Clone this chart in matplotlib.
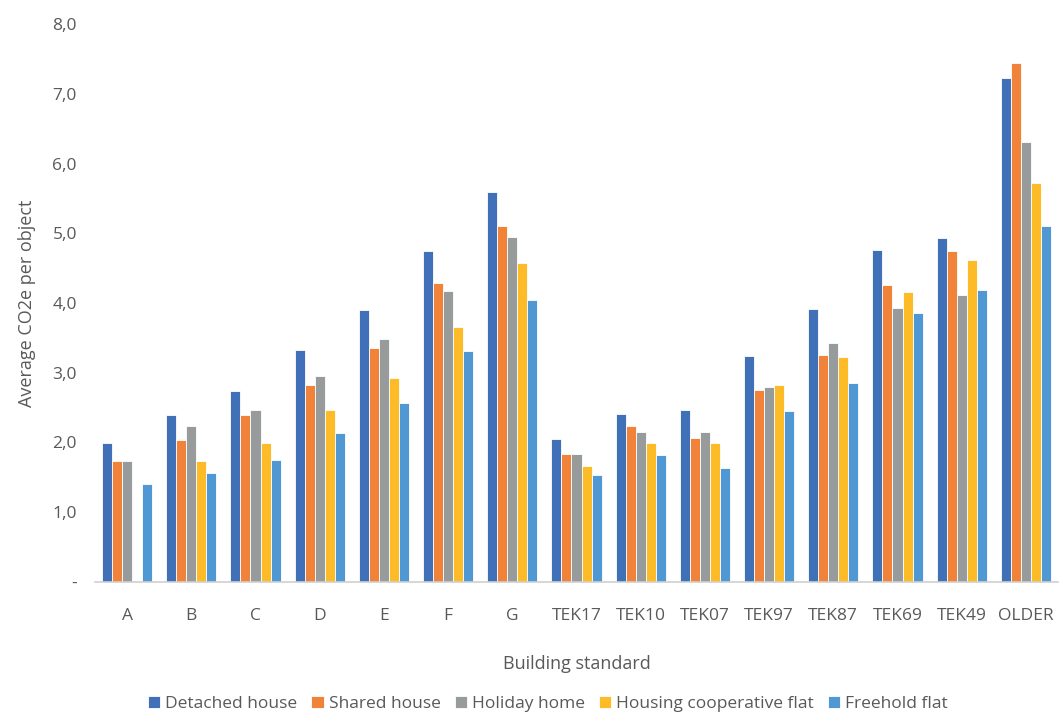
import matplotlib
matplotlib.use("Agg")
import matplotlib.pyplot as plt
import numpy as np

categories = ["A", "B", "C", "D", "E", "F", "G", "TEK17", "TEK10", "TEK07",
              "TEK97", "TEK87", "TEK69", "TEK49", "OLDER"]
series_names = ["Detached house", "Shared house", "Holiday home",
                "Housing cooperative flat", "Freehold flat"]
detached = [2.00, 2.39, 2.74, 3.32, 3.90, 4.75, 5.59, 2.05, 2.41, 2.46, 3.24, 3.91, 4.76, 4.93, 7.23]
shared = [1.73, 2.04, 2.39, 2.83, 3.36, 4.29, 5.11, 1.84, 2.23, 2.06, 2.75, 3.26, 4.26, 4.75, 7.44]
holiday = [1.74, 2.23, 2.47, 2.95, 3.48, 4.17, 4.94, 1.84, 2.15, 2.15, 2.80, 3.42, 3.93, 4.12, 6.31]
coop = [0.0, 1.74, 2.00, 2.46, 2.92, 3.65, 4.57, 1.66, 2.00, 2.00, 2.83, 3.23, 4.16, 4.62, 5.72]
freehold = [1.40, 1.56, 1.75, 2.13, 2.57, 3.31, 4.05, 1.53, 1.82, 1.64, 2.45, 2.85, 3.86, 4.19, 5.10]
yticks = [0, 1, 2, 3, 4, 5, 6, 7, 8]
ytick_labels = ["-", "1,0", "2,0", "3,0", "4,0", "5,0", "6,0", "7,0", "8,0"]

colors = ["#3F70B8", "#F0823A", "#989B9C", "#FDBB28", "#4F98D3"]
data = [detached, shared, holiday, coop, freehold]

plt.rcParams['font.family'] = ['Open Sans', 'DejaVu Sans']
fig = plt.figure(figsize=(10.64, 7.14), dpi=100)
ax = fig.add_axes([95/1064, 1 - 582/714, (1058 - 95)/1064, (582 - 24)/714])

x = np.arange(len(categories))
bw = 0.156
for i, (vals, c, name) in enumerate(zip(data, colors, series_names)):
    ax.bar(x + (i - 2) * bw, vals, width=bw, color=c, edgecolor="white",
           linewidth=0.6, label=name)

ax.set_xlim(-0.5, len(categories) - 0.5)
ax.set_ylim(0, 8)
ax.set_yticks(yticks)
ax.set_yticklabels(ytick_labels)
ax.set_xticks(x)
ax.set_xticklabels(categories)
ax.tick_params(axis="both", length=0, colors="#595959", labelsize=12.5)
ax.tick_params(axis="x", pad=19)
ax.tick_params(axis="y", pad=13)
for s in ["top", "right", "left"]:
    ax.spines[s].set_visible(False)
ax.spines["bottom"].set_color("#D0D0D0")
ax.spines["bottom"].set_linewidth(1.2)

ax.set_ylabel("Average CO2e per object", fontsize=13, color="#595959", labelpad=12)
ax.set_xlabel("Building standard", fontsize=13, color="#595959", labelpad=22)

leg = fig.legend(loc="center", bbox_to_anchor=(0.515, 1 - 704/714), ncol=5,
                 frameon=False, fontsize=12.5, handlelength=0.7, handleheight=0.7,
                 handletextpad=0.3, columnspacing=0.8, labelcolor="#595959")

fig.savefig("out.png", dpi=100)
